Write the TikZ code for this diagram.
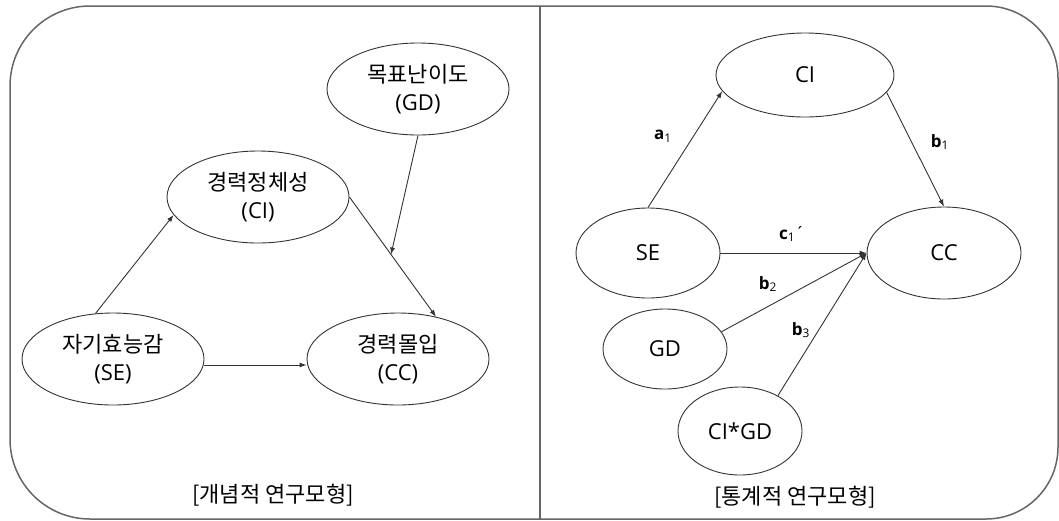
\documentclass[tikz,border=0pt]{standalone}
\usepackage{fontspec}
\setmainfont{Noto Sans CJK KR}
\newfontfamily\latin{Open Sans}
\usetikzlibrary{shapes.geometric,arrows.meta,calc}
\definecolor{framegray}{HTML}{666666}
\definecolor{linegray}{HTML}{333333}
\begin{document}
\begin{tikzpicture}[x=1pt,y=-1pt,
  frame/.style={draw=framegray,line width=1.5pt},
  ell/.style={draw=linegray,line width=0.9pt,ellipse,inner sep=0pt,align=center,
    font=\fontsize{22}{28}\selectfont},
  link/.style={draw=linegray,line width=0.9pt,-{Latex[length=7pt,width=5pt]}},
  coef/.style={inner sep=0pt,font=\fontsize{17}{20}\selectfont\latin},
  caption/.style={inner sep=0pt,font=\fontsize{22}{26}\selectfont}]
\useasboundingbox (0,0) rectangle (1059,520);

% outer frame: two panels sharing the top edge
\draw[frame,rounded corners=80pt] (540,6) -- (10,6) -- (10,519) -- (540,519);
\draw[frame,rounded corners=72pt] (540,6) -- (1058,6) -- (1058,519) -- (540,519);
\draw[frame] (540,6) -- (540,520);

% conceptual model
\node[ell,minimum width=182pt,minimum height=92pt] (gd) at (418,89) {목표난이도\\{\latin(GD)}};
\node[ell,minimum width=182pt,minimum height=92pt] (ci) at (258,197) {경력정체성\\{\latin(CI)}};
\node[ell,minimum width=182pt,minimum height=92pt] (se) at (113,359) {자기효능감\\{\latin(SE)}};
\node[ell,minimum width=182pt,minimum height=92pt] (cc) at (398,359) {경력몰입\\{\latin(CC)}};
\coordinate (m) at ($(ci.east)!0.48!(cc.48)$);

\draw[link] (se.111) -- (ci.192);
\draw[link] (ci.east) -- (cc.48);
\draw[link] (gd.south) -- (m);
\draw[link] ([yshift=-6pt]se.east) -- ([yshift=-6pt]cc.west);

\node[caption] (cap1) at (273,495) {[개념적 연구모형]};

% statistical model
\node[ell,font=\fontsize{22}{28}\selectfont\latin,minimum width=178pt,minimum height=84pt] (ci2) at (805,75) {CI};
\node[ell,font=\fontsize{22}{28}\selectfont\latin,minimum width=144pt,minimum height=90pt] (se2) at (648,253) {SE};
\node[ell,font=\fontsize{22}{28}\selectfont\latin,minimum width=154pt,minimum height=92pt] (cc2) at (944,253) {CC};
\node[ell,font=\fontsize{22}{28}\selectfont\latin,minimum width=124pt,minimum height=80pt] (gd2) at (665,349) {GD};
\node[ell,font=\fontsize{22}{28}\selectfont\latin,minimum width=124pt,minimum height=88pt] (cigd) at (740,431) {CI*GD};

\draw[link] (se2.north) -- (ci2.191);
\draw[link] (ci2.-12) -- (cc2.north);
\draw[link] (se2.east) -- (cc2.west);
\draw[link] (gd2.17) -- (cc2.west);
\draw[link] (cigd.43) -- (cc2.west);

\node[coef] (a1) at (663,136) {\textbf{a}\textsubscript{1}};
\node[coef] (b1) at (940,142) {\textbf{b}\textsubscript{1}};
\node[coef] (c1) at (792,234) {\textbf{c}\textsubscript{1}´};
\node[coef] (b2) at (768,284) {\textbf{b}\textsubscript{2}};
\node[coef] (b3) at (801,330) {\textbf{b}\textsubscript{3}};

\node[caption] (cap2) at (795,497) {[통계적 연구모형]};
\end{tikzpicture}
\end{document}
